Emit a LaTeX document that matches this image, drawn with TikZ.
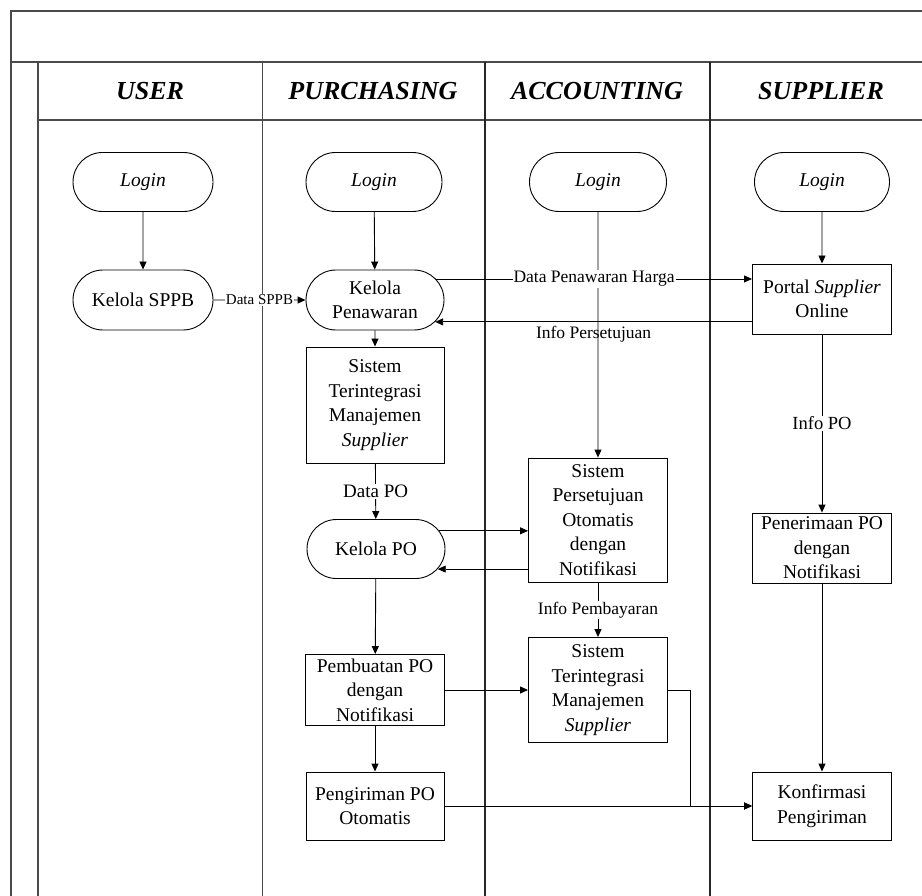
\documentclass[tikz,border=0pt]{standalone}
\usepackage{fontspec}
\setmainfont{Liberation Serif}
\usetikzlibrary{arrows.meta,shapes.misc}

\newcommand{\boxtext}{\fontsize{19.5}{24.5}\selectfont}
\newcommand{\arrowtext}{\fontsize{17.5}{20}\selectfont}
\newcommand{\headtext}{\fontsize{26}{30}\selectfont\bfseries\itshape}

\definecolor{frameline}{HTML}{4A4A4A}

\tikzset{
  term/.style={draw=black, line width=0.9pt, rounded rectangle, minimum width=138pt,
    minimum height=59pt, inner sep=0pt, align=center, font=\boxtext},
  procbox/.style={draw=black, line width=0.9pt, rectangle, minimum width=139pt,
    inner sep=0pt, align=center, font=\boxtext},
  flow/.style={draw=black, line width=0.9pt, -{Triangle[length=8pt,width=7pt]}},
  flowlabel/.style={fill=white, inner sep=1pt, font=\arrowtext},
  lane/.style={draw=frameline, line width=1.1pt},
  heavylane/.style={draw=black!85, line width=1.8pt},
  head/.style={font=\headtext, inner sep=0pt}
}

\begin{document}
\begin{tikzpicture}[x=1pt,y=-1pt]
  \useasboundingbox (0,0) rectangle (922,896);

  % swimlane frame
  \draw[lane] (922,11) -- (11,11) -- (11,896);
  \draw[lane] (11,62) -- (922,62);
  \draw[lane] (38,62) -- (38,896);
  \draw[lane] (38,120) -- (922,120);
  \draw[lane, line width=1pt] (262,62) -- (262,896);
  \draw[heavylane] (485,62) -- (485,896);
  \draw[heavylane] (710,62) -- (710,896);

  % lane titles
  \node[head] (hUser) at (150,91) {USER};
  \node[head] (hPurch) at (373,91) {PURCHASING};
  \node[head] (hAcc) at (597,91) {ACCOUNTING};
  \node[head] (hSupp) at (821,91) {SUPPLIER};

  % USER
  \node[term, minimum width=140pt] (uLogin) at (143,182) {\textit{Login}};
  \node[term, minimum width=140pt, minimum height=60pt] (sppb) at (143,300) {Kelola SPPB};

  % PURCHASING
  \node[term, minimum width=136pt] (pLogin) at (374,182) {\textit{Login}};
  \node[term, minimum height=60pt] (penawaran) at (375,300) {Kelola\\Penawaran};
  \node[procbox, minimum width=138pt, minimum height=116pt] (pstm) at (375,405)
    {Sistem\\Terintegrasi\\Manajemen\\\textit{Supplier}};
  \node[term] (kpo) at (376,549) {Kelola PO};
  \node[procbox, minimum height=71pt] (pembuatan) at (375,690)
    {Pembuatan PO\\dengan\\Notifikasi};
  \node[procbox, minimum width=138pt, minimum height=68pt] (pengiriman) at (375,806)
    {Pengiriman PO\\Otomatis};

  % ACCOUNTING
  \node[term, minimum width=137pt] (aLogin) at (598,182) {\textit{Login}};
  \node[procbox, minimum height=124pt] (persetujuan) at (598,520)
    {Sistem\\Persetujuan\\Otomatis\\dengan\\Notifikasi};
  \node[procbox, minimum height=105pt] (astm) at (598,690)
    {Sistem\\Terintegrasi\\Manajemen\\\textit{Supplier}};

  % SUPPLIER
  \node[term, minimum width=135pt] (sLogin) at (822,182) {\textit{Login}};
  \node[procbox, minimum height=70pt] (portal) at (822,299)
    {Portal \textit{Supplier}\\Online};
  \node[procbox, minimum height=70pt] (penerimaan) at (822,548)
    {Penerimaan PO\\dengan\\Notifikasi};
  \node[procbox, minimum height=68pt] (konfirmasi) at (822,806)
    {Konfirmasi\\Pengiriman};

  % vertical flows
  \draw[flow] (uLogin) -- (sppb);
  \draw[flow] (pLogin) -- (penawaran);
  \draw[flow] (penawaran) -- (pstm);
  \draw[flow] (pstm) -- (kpo) node[flowlabel, midway, font=\fontsize{19}{22}\selectfont] {Data PO};
  \draw[flow] (kpo) -- (pembuatan);
  \draw[flow] (pembuatan) -- (pengiriman);
  \draw[flow] (aLogin) -- (persetujuan);
  \draw[flow] (persetujuan) -- (astm) node[flowlabel, midway] {Info Pembayaran};
  \draw[flow] (sLogin) -- (portal);
  \draw[flow] (portal) -- (penerimaan) node[flowlabel, midway, font=\fontsize{18.5}{22}\selectfont] {Info PO};
  \draw[flow] (penerimaan) -- (konfirmasi);

  % horizontal flows
  \draw[flow] (sppb) -- (penawaran)
    node[flowlabel, midway, inner sep=0.5pt, font=\fontsize{15}{18}\selectfont] {Data SPPB};
  \draw[flow] (penawaran.19) -- (penawaran.19 -| portal.west)
    node[flowlabel, midway] {Data Penawaran Harga};
  \draw[flow] (penawaran.-20 -| portal.west) -- (penawaran.-20)
    node[flowlabel, midway, below=3pt, fill=none] {Info Persetujuan};
  \draw[flow] (kpo.16) -- (kpo.16 -| persetujuan.west);
  \draw[flow] (kpo.-18 -| persetujuan.west) -- (kpo.-18);
  \draw[flow] (pembuatan) -- (astm);
  \draw[flow] (pengiriman) -- (konfirmasi);
  \draw[flow] (astm.east) -- ++(22,0) |- (konfirmasi.west);
\end{tikzpicture}
\end{document}
